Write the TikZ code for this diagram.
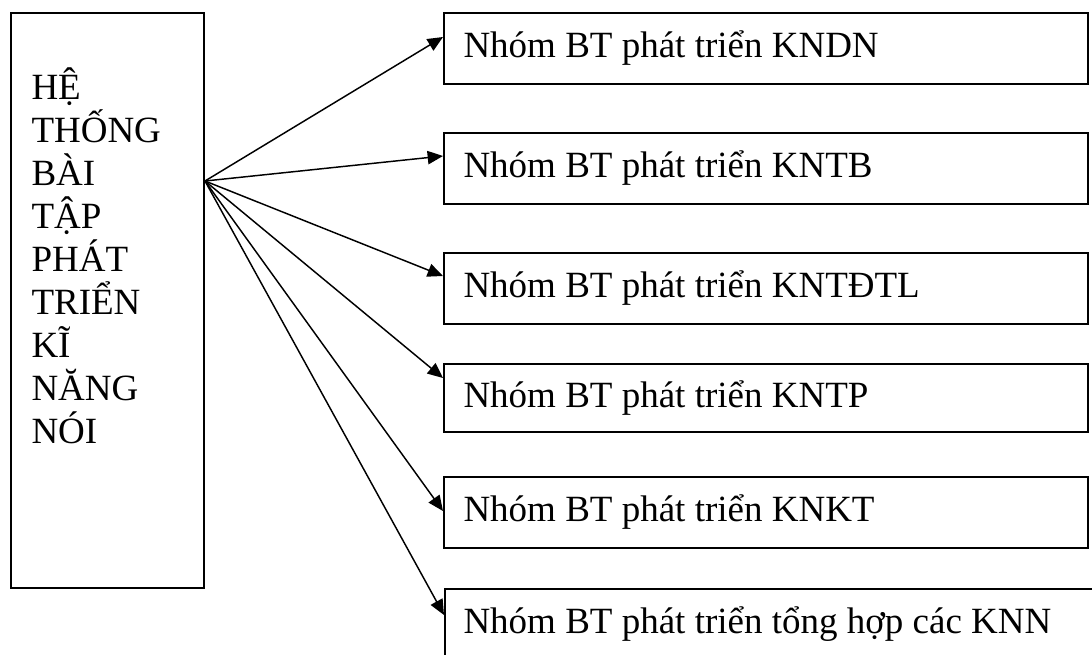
\documentclass[tikz,border=0pt]{standalone}
\usepackage{fontspec}
\setmainfont{Liberation Serif}
\usetikzlibrary{arrows.meta,calc}

\tikzset{every picture/.style={line width=0.75pt}}
\tikzset{
  nhom/.style={draw, line width=1.5pt, anchor=north west, inner sep=0pt, minimum width=483pt, minimum height=53.25pt},
  nhomtext/.style={anchor=base west, inner sep=0pt, font=\fontsize{27.75}{32.25}\selectfont},
  fan/.style={-{Triangle[length=11.5pt,width=10pt]}, line width=1.1pt}
}

\begin{document}
\begin{tikzpicture}[x=0.75pt,y=0.75pt,yscale=-1,xscale=1]
\useasboundingbox (0,0) rectangle (1092,654);
\clip (0,0) rectangle (1092,654);
%Shape: Rectangle, left box
\node [draw, line width=1.5pt, anchor=north west, inner sep=0pt, minimum width=144.75pt, minimum height=431.25pt] (he) at (10,12) {};
% Text Node
\node [anchor=base west, align=left, inner sep=0pt, font=\fontsize{27.75}{32.25}\selectfont] (hetext) at (31,443) {HỆ\\THỐNG\\BÀI\\TẬP\\PHÁT\\TRIỂN\\KĨ\\NĂNG\\NÓI};
\coordinate (src) at ($(he.north east)+(0,169)$);
%Shape: Rectangle, right boxes
\node [nhom] (b1) at (443,12) {};
\node [nhom] (b2) at (443,132) {};
\node [nhom] (b3) at (443,252) {};
\node [nhom, minimum height=51pt] (b4) at (443,363) {};
\node [nhom] (b5) at (443,476) {};
\node [nhom, minimum width=510pt] (b6) at (444,588) {};
% Text Node
\node [nhomtext] (t1) at ($(b1.north west)+(20,45)$) {Nhóm BT phát triển KNDN};
\node [nhomtext] (t2) at ($(b2.north west)+(20,45)$) {Nhóm BT phát triển KNTB};
\node [nhomtext] (t3) at ($(b3.north west)+(20,45)$) {Nhóm BT phát triển KNTĐTL};
\node [nhomtext] (t4) at ($(b4.north west)+(20,44)$) {Nhóm BT phát triển KNTP};
\node [nhomtext] (t5) at ($(b5.north west)+(20,45)$) {Nhóm BT phát triển KNKT};
\node [nhomtext] (t6) at ($(b6.north west)+(19,45)$) {Nhóm BT phát triển tổng hợp các KNN};
%Straight Lines, arrows
\draw [fan] (src) -- ($(b1.north west)+(0,25)$);
\draw [fan] (src) -- ($(b2.north west)+(0,24)$);
\draw [fan] (src) -- ($(b3.north west)+(0,24)$);
\draw [fan] (src) -- ($(b4.north west)+(0,15)$);
\draw [fan] (src) -- ($(b5.north west)+(0,35)$);
\draw [fan] (src) -- ($(b6.north west)+(0,27)$);
\end{tikzpicture}
\end{document}
